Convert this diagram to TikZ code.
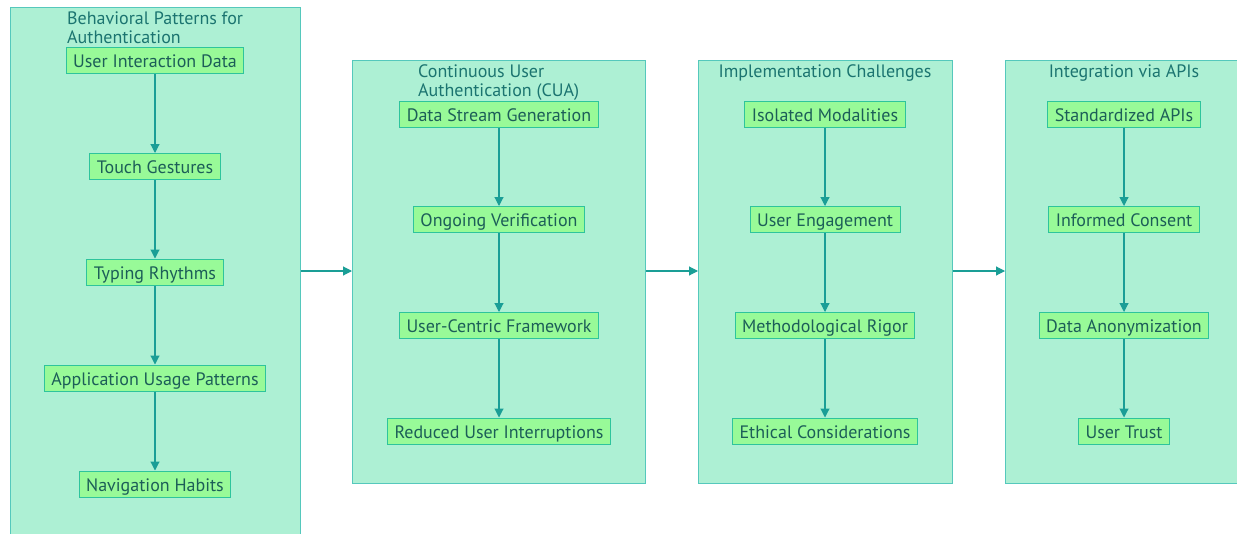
\documentclass[tikz,border=0pt]{standalone}
\usepackage{fontspec}
\setmainfont{PT Sans}
\usetikzlibrary{arrows.meta}
\definecolor{clfill}{HTML}{ADF0D4}
\definecolor{cldraw}{HTML}{55C8BC}
\definecolor{ndfill}{HTML}{98FA98}
\definecolor{nddraw}{HTML}{2EC49C}
\definecolor{ndtext}{HTML}{1C5E58}
\definecolor{titletext}{HTML}{1B7470}
\definecolor{flowcol}{HTML}{1A9E96}
\tikzset{
  cluster/.style={draw=cldraw, fill=clfill, line width=1pt, rectangle, inner sep=0pt},
  stepbox/.style={draw=nddraw, fill=ndfill, line width=1pt, rectangle, minimum height=26pt,
    inner xsep=7pt, inner ysep=0pt, text height=15.5pt, text depth=1.5pt,
    text=ndtext, font=\fontsize{18}{19}\selectfont},
  title/.style={text=titletext, font=\fontsize{18}{19}\selectfont, inner sep=0pt, align=left},
  flow/.style={draw=flowcol, line width=1.1pt, -{Triangle[length=9pt,width=9pt]}}
}
\begin{document}
\begin{tikzpicture}[x=1pt, y=-1pt]
\useasboundingbox (0,0) rectangle (1237,533);
\clip (0,0) rectangle (1237,533);
\fill[white] (0,0) rectangle (1237,533);

% clusters
\node[cluster, minimum width=290pt, minimum height=563pt, anchor=north west] (c1) at (10,7) {};
\node[cluster, minimum width=293pt, minimum height=423pt, anchor=north west] (c2) at (352,60) {};
\node[cluster, minimum width=254pt, minimum height=423pt, anchor=north west] (c3) at (698,60) {};
\node[cluster, minimum width=260pt, minimum height=423pt, anchor=north west] (c4) at (1005,60) {};

% cluster titles
\node[title, anchor=north west] (t1) at (67,11.5) {Behavioral Patterns for\\Authentication};
\node[title, anchor=north west] (t2) at (418,64.5) {Continuous User\\Authentication (CUA)};
\node[title, anchor=north] (t3) at (825,64.5) {Implementation Challenges};
\node[title, anchor=north] (t4) at (1124,64.5) {Integration via APIs};

% behavioral patterns
\node[stepbox] (a1) at (155,60.5) {User Interaction Data};
\node[stepbox] (a2) at (155,166.5) {Touch Gestures};
\node[stepbox] (a3) at (155,272) {Typing Rhythms};
\node[stepbox] (a4) at (155,378) {Application Usage Patterns};
\node[stepbox] (a5) at (155,484) {Navigation Habits};

% continuous authentication
\node[stepbox] (b1) at (499,114) {Data Stream Generation};
\node[stepbox] (b2) at (499,219.5) {Ongoing Verification};
\node[stepbox] (b3) at (499,325.5) {User-Centric Framework};
\node[stepbox] (b4) at (499,431) {Reduced User Interruptions};

% implementation challenges
\node[stepbox] (d1) at (825,114) {Isolated Modalities};
\node[stepbox] (d2) at (825,219.5) {User Engagement};
\node[stepbox] (d3) at (825,325.5) {Methodological Rigor};
\node[stepbox] (d4) at (825,431) {Ethical Considerations};

% integration via APIs
\node[stepbox] (e1) at (1124,114) {Standardized APIs};
\node[stepbox] (e2) at (1124,219.5) {Informed Consent};
\node[stepbox] (e3) at (1124,325.5) {Data Anonymization};
\node[stepbox] (e4) at (1124,431) {User Trust};

% flows inside clusters
\draw[flow] (a1) -- (a2);
\draw[flow] (a2) -- (a3);
\draw[flow] (a3) -- (a4);
\draw[flow] (a4) -- (a5);
\draw[flow] (b1) -- (b2);
\draw[flow] (b2) -- (b3);
\draw[flow] (b3) -- (b4);
\draw[flow] (d1) -- (d2);
\draw[flow] (d2) -- (d3);
\draw[flow] (d3) -- (d4);
\draw[flow] (e1) -- (e2);
\draw[flow] (e2) -- (e3);
\draw[flow] (e3) -- (e4);

% flows between clusters
\coordinate (mid) at (0,271);
\draw[flow] (c1.east |- mid) -- (c2.west |- mid);
\draw[flow] (c2.east |- mid) -- (c3.west |- mid);
\draw[flow] (c3.east |- mid) -- (c4.west |- mid);
\end{tikzpicture}
\end{document}
